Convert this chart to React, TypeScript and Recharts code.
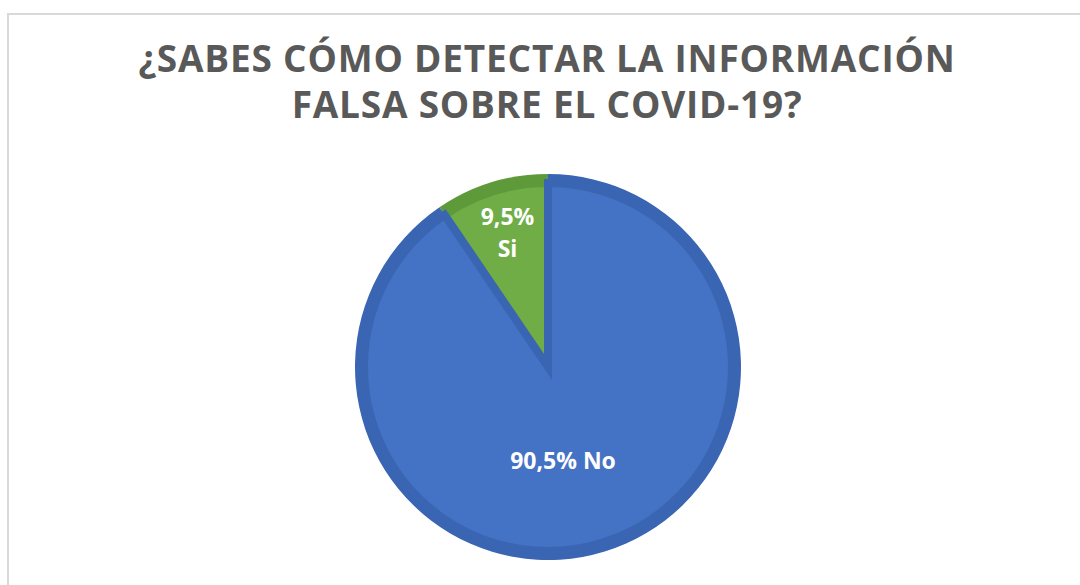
import { Pie, PieChart } from "recharts";

const categories = ["Si", "No"];
const values = [9.5, 90.5];
const labels = ["9,5%", "90,5%"];
const fills = ["#70AD47", "#4472C4"];
const edges = ["#5E9A3A", "#3A65B3"];

const data = categories.map((name, i) => ({ name, value: values[i], pct: labels[i] }));

const RAD = Math.PI / 180;

function renderLabel(props: any) {
  const { cx, cy, midAngle, outerRadius, index } = props;
  const d = data[index];
  const white = { fill: "#fff", fontWeight: 700, fontSize: 23, fontFamily: "'Open Sans', sans-serif" };
  if (index === 0) {
    const r = outerRadius * 0.73;
    const x = cx + r * Math.cos(-midAngle * RAD) - 1;
    const y = cy + r * Math.sin(-midAngle * RAD);
    return (
      <text x={x} y={y} textAnchor="middle" style={white}>
        <tspan x={x} dy={-14}>{d.pct}</tspan>
        <tspan x={x} dy={32}>{d.name}</tspan>
      </text>
    );
  }
  const r = outerRadius * 0.5;
  const x = cx + r * Math.cos(-midAngle * RAD) - 12;
  const y = cy + r * Math.sin(-midAngle * RAD) + 5;
  return (
    <text x={x} y={y} textAnchor="middle" dominantBaseline="central" style={white}>
      {d.pct} {d.name}
    </text>
  );
}

function sectorPath(cx: number, cy: number, r: number, a0: number, a1: number) {
  const x0 = cx + r * Math.cos(-a0 * RAD);
  const y0 = cy + r * Math.sin(-a0 * RAD);
  const x1 = cx + r * Math.cos(-a1 * RAD);
  const y1 = cy + r * Math.sin(-a1 * RAD);
  const large = Math.abs(a1 - a0) > 180 ? 1 : 0;
  return `M${cx},${cy} L${x0},${y0} A${r},${r} 0 ${large} 0 ${x1},${y1} Z`;
}

export default function App() {
  return (
    <div style={{ position: "absolute", left: 0, top: 0, width: 1080, height: 585, overflow: "hidden", background: "#fff" }}>
      <div
        style={{
          position: "absolute",
          left: 7,
          top: 13,
          width: 1100,
          height: 620,
          border: "2px solid #d9d9d9",
        }}
      />
      <div
        style={{
          position: "absolute",
          left: 0,
          top: 35,
          width: 1094,
          textAlign: "center",
          fontFamily: "'Open Sans', sans-serif",
          fontWeight: 700,
          fontSize: 37,
          lineHeight: "46px",
          color: "#595959",
          letterSpacing: 0.8,
        }}
      >
        ¿SABES CÓMO DETECTAR LA INFORMACIÓN
        <br />
        FALSA SOBRE EL COVID-19?
      </div>
      <div style={{ position: "absolute", left: 0, top: 0 }}>
        <PieChart width={1080} height={585} margin={{ top: 0, right: 0, bottom: 0, left: 0 }}>
          <Pie
            data={data}
            dataKey="value"
            nameKey="name"
            cx={548}
            cy={367}
            outerRadius={193}
            startAngle={90}
            endAngle={450}
            stroke="none"
            isAnimationActive={false}
            shape={(p: any) => (
              <path d={sectorPath(p.cx, p.cy, p.outerRadius, p.startAngle, p.endAngle)} fill={edges[p.index]} />
            )}
          />
          <Pie
            data={data}
            dataKey="value"
            nameKey="name"
            cx={548}
            cy={367}
            outerRadius={184}
            startAngle={90}
            endAngle={450}
            isAnimationActive={false}
            labelLine={false}
            label={renderLabel}
            shape={(p: any) => (
              <path
                d={sectorPath(p.cx, p.cy, p.outerRadius, p.startAngle, p.endAngle)}
                fill={fills[p.index]}
                stroke={edges[p.index]}
                strokeWidth={8}
              />
            )}
          />
        </PieChart>
      </div>
    </div>
  );
}
